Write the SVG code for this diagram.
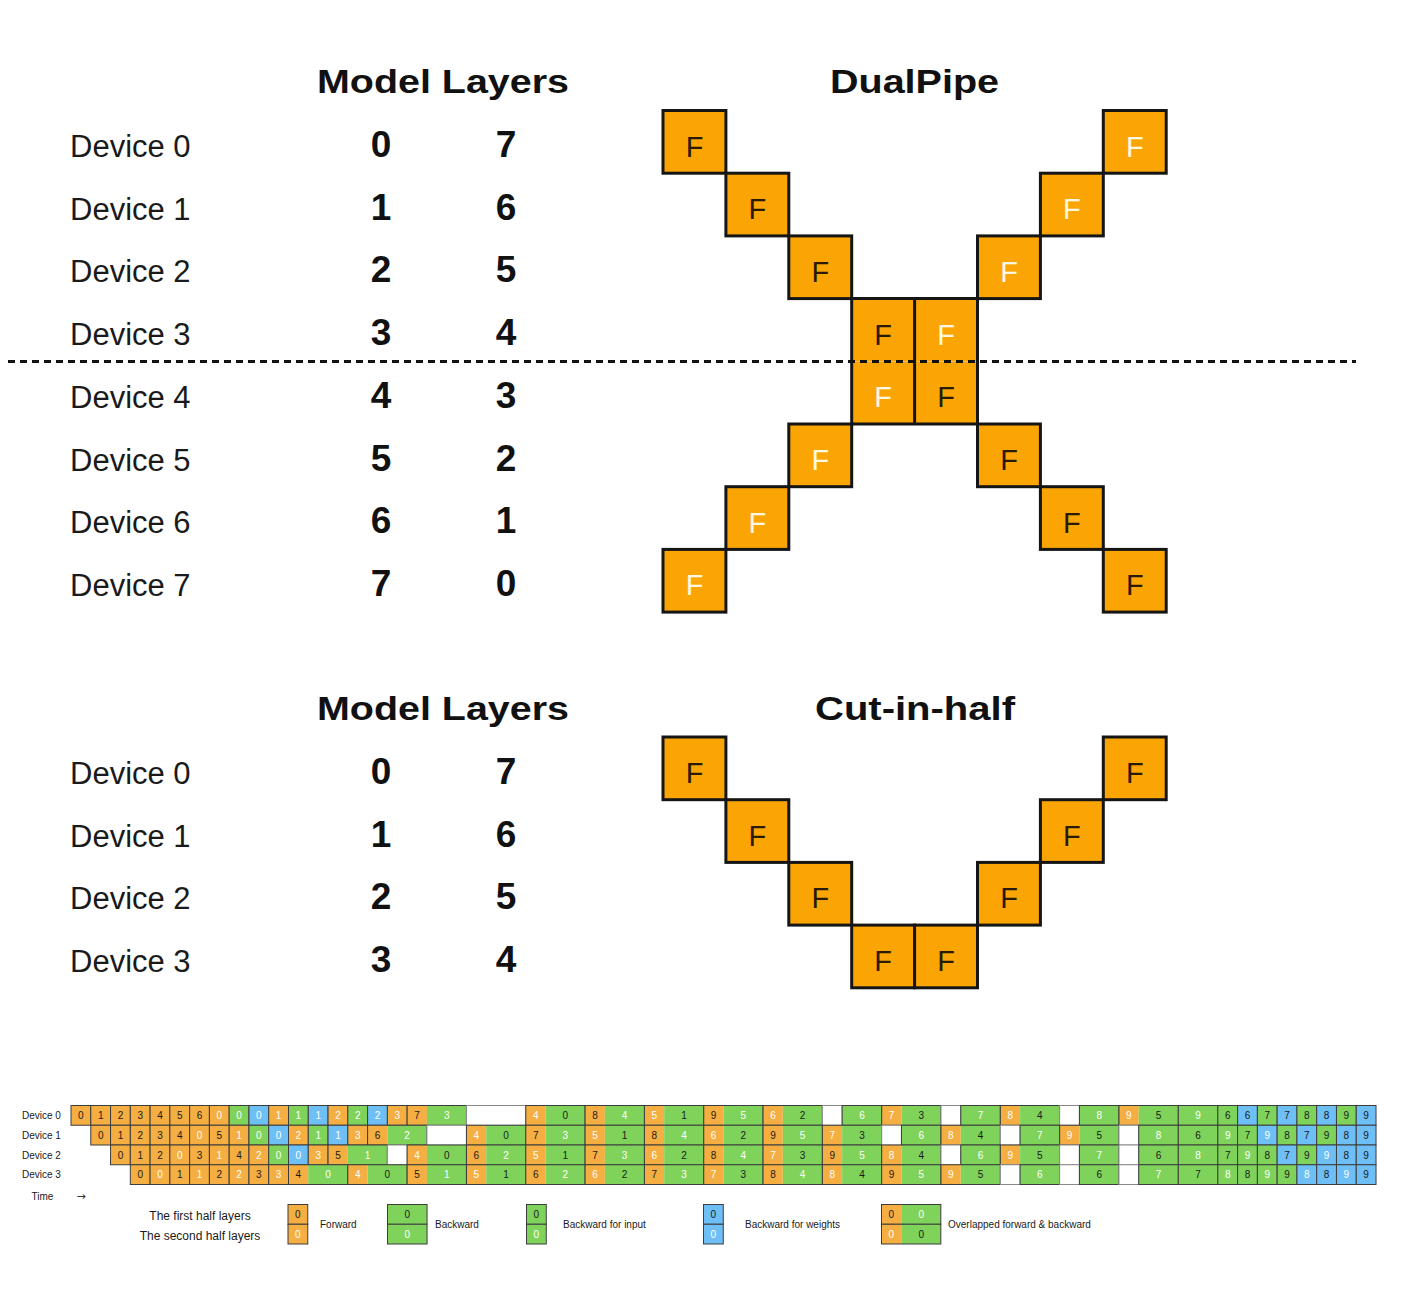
<svg xmlns="http://www.w3.org/2000/svg" width="1401" height="1304" viewBox="0 0 1401 1304">
<style>
text{font-family:"Liberation Sans",Arial,"DejaVu Sans",sans-serif}
.title{font-size:34px;font-weight:bold;fill:#111;text-anchor:middle}
.dev{font-size:31px;fill:#1a1a1a}
.num{font-size:37px;font-weight:bold;fill:#111;text-anchor:middle}
.box{fill:#fba504;stroke:#151515;stroke-width:3}
.boxf{fill:#fba504}
.boxo{fill:none;stroke:#151515;stroke-width:3}
.F{font-size:29px;text-anchor:middle}
.Fd{fill:#2a1a08}
.Fw{fill:#fff8e0}
.div{stroke:#111;stroke-width:3;stroke-dasharray:7 5;fill:none}
.sf{fill:#f5ae41}
.sg{fill:#7fd35b}
.sb{fill:#6ebff6}
.sw{fill:#ffffff}
.c{stroke:#3d3d3d;stroke-width:1}
.cw{stroke:#8a8a8a;stroke-width:1}
.o{fill:none;stroke:#3d3d3d;stroke-width:1}
.s{font-size:10px;text-anchor:middle}
.k{fill:#1a1a1a}
.w{fill:#ffffff}
.sl{font-size:10px;fill:#1a1a1a}
.arrow{font-family:"DejaVu Sans",sans-serif;font-size:11px;fill:#333}
.lg{font-size:12px;fill:#1a1a1a;text-anchor:middle}
</style>
<defs>
<rect id="cf" class="sf c" width="19.77" height="19.75"/>
<rect id="cg" class="sg c" width="19.77" height="19.75"/>
<rect id="cb" class="sb c" width="19.77" height="19.75"/>
<rect id="cg2" class="sg c" width="39.55" height="19.75"/>
<rect id="cw1" class="sw cw" width="19.77" height="19.75"/>
<rect id="cw2" class="sw cw" width="39.55" height="19.75"/>
<rect id="cw3" class="sw cw" width="59.32" height="19.75"/>
<g id="ov"><rect class="sf" width="19.77" height="19.75"/><rect class="sg" x="19.77" width="39.55" height="19.75"/><rect class="o" width="59.32" height="19.75"/></g>
</defs>
<rect width="1401" height="1304" fill="#ffffff"/>

<!-- ===== DualPipe section ===== -->
<g id="dualpipe-titles">
<text class="title" x="443" y="92.5" textLength="252" lengthAdjust="spacingAndGlyphs">Model Layers</text>
<text class="title" x="914.5" y="92.5" textLength="169" lengthAdjust="spacingAndGlyphs">DualPipe</text>
</g>
<g id="dp-devices">
<g id="dp-dev0"><text class="dev" x="70" y="157">Device 0</text><text class="num" x="381" y="157">0</text><text class="num" x="506" y="157">7</text></g>
<g id="dp-dev1"><text class="dev" x="70" y="219.7">Device 1</text><text class="num" x="381" y="219.7">1</text><text class="num" x="506" y="219.7">6</text></g>
<g id="dp-dev2"><text class="dev" x="70" y="282.4">Device 2</text><text class="num" x="381" y="282.4">2</text><text class="num" x="506" y="282.4">5</text></g>
<g id="dp-dev3"><text class="dev" x="70" y="345.1">Device 3</text><text class="num" x="381" y="345.1">3</text><text class="num" x="506" y="345.1">4</text></g>
<g id="dp-dev4"><text class="dev" x="70" y="407.8">Device 4</text><text class="num" x="381" y="407.8">4</text><text class="num" x="506" y="407.8">3</text></g>
<g id="dp-dev5"><text class="dev" x="70" y="470.5">Device 5</text><text class="num" x="381" y="470.5">5</text><text class="num" x="506" y="470.5">2</text></g>
<g id="dp-dev6"><text class="dev" x="70" y="533.2">Device 6</text><text class="num" x="381" y="533.2">6</text><text class="num" x="506" y="533.2">1</text></g>
<g id="dp-dev7"><text class="dev" x="70" y="595.9">Device 7</text><text class="num" x="381" y="595.9">7</text><text class="num" x="506" y="595.9">0</text></g>
</g>
<g id="dp-boxes">
<g id="dp-r0-a"><rect class="box" x="663" y="110.5" width="62.9" height="62.7"/><text class="F Fd" x="694.5" y="156.5">F</text></g>
<g id="dp-r0-b"><rect class="box" x="1103.3" y="110.5" width="62.9" height="62.7"/><text class="F Fw" x="1134.8" y="156.5">F</text></g>
<g id="dp-r1-a"><rect class="box" x="725.9" y="173.2" width="62.9" height="62.7"/><text class="F Fd" x="757.4" y="219.2">F</text></g>
<g id="dp-r1-b"><rect class="box" x="1040.4" y="173.2" width="62.9" height="62.7"/><text class="F Fw" x="1071.9" y="219.2">F</text></g>
<g id="dp-r2-a"><rect class="box" x="788.8" y="235.9" width="62.9" height="62.7"/><text class="F Fd" x="820.3" y="281.9">F</text></g>
<g id="dp-r2-b"><rect class="box" x="977.5" y="235.9" width="62.9" height="62.7"/><text class="F Fw" x="1009" y="281.9">F</text></g>
<g id="dp-r3-a"><rect class="boxf" x="851.7" y="298.6" width="62.9" height="62.7"/><text class="F Fd" x="883.2" y="344.6">F</text></g>
<g id="dp-r3-b"><rect class="boxf" x="914.6" y="298.6" width="62.9" height="62.7"/><text class="F Fw" x="946.1" y="344.6">F</text></g>
<g id="dp-r4-a"><rect class="boxf" x="851.7" y="361.3" width="62.9" height="62.7"/><text class="F Fw" x="883.2" y="407.3">F</text></g>
<g id="dp-r4-b"><rect class="boxf" x="914.6" y="361.3" width="62.9" height="62.7"/><text class="F Fd" x="946.1" y="407.3">F</text></g>
<path id="dp-center-outline" class="boxo" d="M851.7 298.6H977.5V424H851.7Z M914.6 298.6V424"/>
<g id="dp-r5-a"><rect class="box" x="788.8" y="424" width="62.9" height="62.7"/><text class="F Fw" x="820.3" y="470">F</text></g>
<g id="dp-r5-b"><rect class="box" x="977.5" y="424" width="62.9" height="62.7"/><text class="F Fd" x="1009" y="470">F</text></g>
<g id="dp-r6-a"><rect class="box" x="725.9" y="486.7" width="62.9" height="62.7"/><text class="F Fw" x="757.4" y="532.7">F</text></g>
<g id="dp-r6-b"><rect class="box" x="1040.4" y="486.7" width="62.9" height="62.7"/><text class="F Fd" x="1071.9" y="532.7">F</text></g>
<g id="dp-r7-a"><rect class="box" x="663" y="549.4" width="62.9" height="62.7"/><text class="F Fw" x="694.5" y="595.4">F</text></g>
<g id="dp-r7-b"><rect class="box" x="1103.3" y="549.4" width="62.9" height="62.7"/><text class="F Fd" x="1134.8" y="595.4">F</text></g>
</g>
<g id="connectors">
<line class="div" x1="8" y1="361.5" x2="1356" y2="361.5"/>
</g>

<!-- ===== Cut-in-half section ===== -->
<g id="cih-titles">
<text class="title" x="443" y="719.5" textLength="252" lengthAdjust="spacingAndGlyphs">Model Layers</text>
<text class="title" x="915" y="719.5" textLength="200" lengthAdjust="spacingAndGlyphs">Cut-in-half</text>
</g>
<g id="cih-devices">
<g id="cih-dev0"><text class="dev" x="70" y="784">Device 0</text><text class="num" x="381" y="784">0</text><text class="num" x="506" y="784">7</text></g>
<g id="cih-dev1"><text class="dev" x="70" y="846.7">Device 1</text><text class="num" x="381" y="846.7">1</text><text class="num" x="506" y="846.7">6</text></g>
<g id="cih-dev2"><text class="dev" x="70" y="909.4">Device 2</text><text class="num" x="381" y="909.4">2</text><text class="num" x="506" y="909.4">5</text></g>
<g id="cih-dev3"><text class="dev" x="70" y="972.1">Device 3</text><text class="num" x="381" y="972.1">3</text><text class="num" x="506" y="972.1">4</text></g>
</g>
<g id="cih-boxes">
<g id="cih-r0-a"><rect class="box" x="663" y="737" width="62.9" height="62.7"/><text class="F Fd" x="694.5" y="783">F</text></g>
<g id="cih-r0-b"><rect class="box" x="1103.3" y="737" width="62.9" height="62.7"/><text class="F Fd" x="1134.8" y="783">F</text></g>
<g id="cih-r1-a"><rect class="box" x="725.9" y="799.7" width="62.9" height="62.7"/><text class="F Fd" x="757.4" y="845.7">F</text></g>
<g id="cih-r1-b"><rect class="box" x="1040.4" y="799.7" width="62.9" height="62.7"/><text class="F Fd" x="1071.9" y="845.7">F</text></g>
<g id="cih-r2-a"><rect class="box" x="788.8" y="862.4" width="62.9" height="62.7"/><text class="F Fd" x="820.3" y="908.4">F</text></g>
<g id="cih-r2-b"><rect class="box" x="977.5" y="862.4" width="62.9" height="62.7"/><text class="F Fd" x="1009" y="908.4">F</text></g>
<g id="cih-r3-a"><rect class="box" x="851.7" y="925.1" width="62.9" height="62.7"/><text class="F Fd" x="883.2" y="971.1">F</text></g>
<g id="cih-r3-b"><rect class="box" x="914.6" y="925.1" width="62.9" height="62.7"/><text class="F Fd" x="946.1" y="971.1">F</text></g>
</g>

<!-- ===== Schedule ===== -->
<g id="sched-labels">
<text class="sl" x="22" y="1119">Device 0</text>
<text class="sl" x="22" y="1138.75">Device 1</text>
<text class="sl" x="22" y="1158.5">Device 2</text>
<text class="sl" x="22" y="1178.25">Device 3</text>
<text class="sl" x="31.5" y="1200" fill="#333">Time</text>
<text class="arrow" x="76.5" y="1200">→</text>
</g>

<g id="sched-dev0">
<use href="#cf" x="71" y="1105.5"/><use href="#cf" x="90.77" y="1105.5"/><use href="#cf" x="110.55" y="1105.5"/><use href="#cf" x="130.32" y="1105.5"/><use href="#cf" x="150.09" y="1105.5"/><use href="#cf" x="169.87" y="1105.5"/><use href="#cf" x="189.64" y="1105.5"/>
<use href="#cf" x="209.41" y="1105.5"/><use href="#cg" x="229.18" y="1105.5"/><use href="#cb" x="248.96" y="1105.5"/>
<use href="#cf" x="268.73" y="1105.5"/><use href="#cg" x="288.5" y="1105.5"/><use href="#cb" x="308.28" y="1105.5"/>
<use href="#cf" x="328.05" y="1105.5"/><use href="#cg" x="347.82" y="1105.5"/><use href="#cb" x="367.6" y="1105.5"/>
<use href="#cf" x="387.37" y="1105.5"/>
<use href="#ov" x="407.14" y="1105.5"/>
<use href="#cw3" x="466.46" y="1105.5"/>
<use href="#ov" x="525.78" y="1105.5"/><use href="#ov" x="585.1" y="1105.5"/><use href="#ov" x="644.42" y="1105.5"/><use href="#ov" x="703.74" y="1105.5"/><use href="#ov" x="763.06" y="1105.5"/>
<use href="#cw1" x="822.37" y="1105.5"/><use href="#cg2" x="842.15" y="1105.5"/>
<use href="#ov" x="881.69" y="1105.5"/>
<use href="#cw1" x="941.01" y="1105.5"/><use href="#cg2" x="960.79" y="1105.5"/>
<use href="#ov" x="1000.33" y="1105.5"/>
<use href="#cw1" x="1059.65" y="1105.5"/><use href="#cg2" x="1079.42" y="1105.5"/>
<use href="#ov" x="1118.97" y="1105.5"/>
<use href="#cg2" x="1178.29" y="1105.5"/>
<use href="#cg" x="1217.83" y="1105.5"/><use href="#cb" x="1237.61" y="1105.5"/><use href="#cg" x="1257.38" y="1105.5"/><use href="#cb" x="1277.15" y="1105.5"/><use href="#cg" x="1296.93" y="1105.5"/><use href="#cb" x="1316.7" y="1105.5"/><use href="#cg" x="1336.47" y="1105.5"/><use href="#cb" x="1356.25" y="1105.5"/>
<text class="s k" x="80.89" y="1119">0</text><text class="s k" x="100.66" y="1119">1</text><text class="s k" x="120.44" y="1119">2</text><text class="s k" x="140.21" y="1119">3</text><text class="s k" x="159.98" y="1119">4</text><text class="s k" x="179.76" y="1119">5</text><text class="s k" x="199.53" y="1119">6</text>
<text class="s w" x="219.3" y="1119">0</text><text class="s w" x="239.07" y="1119">0</text><text class="s w" x="258.85" y="1119">0</text><text class="s w" x="278.62" y="1119">1</text><text class="s w" x="298.39" y="1119">1</text><text class="s w" x="318.17" y="1119">1</text><text class="s w" x="337.94" y="1119">2</text><text class="s w" x="357.71" y="1119">2</text><text class="s w" x="377.49" y="1119">2</text><text class="s w" x="397.26" y="1119">3</text>
<text class="s k" x="417.03" y="1119">7</text><text class="s w" x="446.69" y="1119">3</text>
<text class="s w" x="535.67" y="1119">4</text><text class="s k" x="565.33" y="1119">0</text>
<text class="s k" x="594.99" y="1119">8</text><text class="s w" x="624.64" y="1119">4</text>
<text class="s w" x="654.31" y="1119">5</text><text class="s k" x="683.96" y="1119">1</text>
<text class="s k" x="713.63" y="1119">9</text><text class="s w" x="743.28" y="1119">5</text>
<text class="s w" x="772.95" y="1119">6</text><text class="s k" x="802.6" y="1119">2</text>
<text class="s w" x="861.92" y="1119">6</text>
<text class="s w" x="891.58" y="1119">7</text><text class="s k" x="921.24" y="1119">3</text>
<text class="s w" x="980.56" y="1119">7</text>
<text class="s w" x="1010.22" y="1119">8</text><text class="s k" x="1039.88" y="1119">4</text>
<text class="s w" x="1099.2" y="1119">8</text>
<text class="s w" x="1128.86" y="1119">9</text><text class="s k" x="1158.52" y="1119">5</text>
<text class="s w" x="1198.06" y="1119">9</text>
<text class="s k" x="1227.72" y="1119">6</text><text class="s k" x="1247.5" y="1119">6</text><text class="s k" x="1267.27" y="1119">7</text><text class="s k" x="1287.04" y="1119">7</text><text class="s k" x="1306.82" y="1119">8</text><text class="s k" x="1326.59" y="1119">8</text><text class="s k" x="1346.36" y="1119">9</text><text class="s k" x="1366.14" y="1119">9</text>
</g>

<g id="sched-dev1">
<use href="#cf" x="90.77" y="1125.25"/><use href="#cf" x="110.55" y="1125.25"/><use href="#cf" x="130.32" y="1125.25"/><use href="#cf" x="150.09" y="1125.25"/><use href="#cf" x="169.87" y="1125.25"/><use href="#cf" x="189.64" y="1125.25"/><use href="#cf" x="209.41" y="1125.25"/><use href="#cf" x="229.18" y="1125.25"/>
<use href="#cg" x="248.96" y="1125.25"/><use href="#cb" x="268.73" y="1125.25"/>
<use href="#cf" x="288.5" y="1125.25"/><use href="#cg" x="308.28" y="1125.25"/><use href="#cb" x="328.05" y="1125.25"/>
<use href="#cf" x="347.82" y="1125.25"/>
<use href="#ov" x="367.6" y="1125.25"/>
<use href="#cw2" x="426.91" y="1125.25"/>
<use href="#ov" x="466.46" y="1125.25"/><use href="#ov" x="525.78" y="1125.25"/><use href="#ov" x="585.1" y="1125.25"/><use href="#ov" x="644.42" y="1125.25"/><use href="#ov" x="703.74" y="1125.25"/><use href="#ov" x="763.06" y="1125.25"/><use href="#ov" x="822.37" y="1125.25"/>
<use href="#cw1" x="881.69" y="1125.25"/><use href="#cg2" x="901.47" y="1125.25"/>
<use href="#ov" x="941.01" y="1125.25"/>
<use href="#cw1" x="1000.33" y="1125.25"/><use href="#cg2" x="1020.1" y="1125.25"/>
<use href="#ov" x="1059.65" y="1125.25"/>
<use href="#cw1" x="1118.97" y="1125.25"/><use href="#cg2" x="1138.74" y="1125.25"/>
<use href="#cg2" x="1178.29" y="1125.25"/>
<use href="#cg" x="1217.83" y="1125.25"/><use href="#cg" x="1237.61" y="1125.25"/><use href="#cb" x="1257.38" y="1125.25"/><use href="#cg" x="1277.15" y="1125.25"/><use href="#cb" x="1296.93" y="1125.25"/><use href="#cg" x="1316.7" y="1125.25"/><use href="#cb" x="1336.47" y="1125.25"/><use href="#cb" x="1356.25" y="1125.25"/>
<text class="s k" x="100.66" y="1138.75">0</text><text class="s k" x="120.44" y="1138.75">1</text><text class="s k" x="140.21" y="1138.75">2</text><text class="s k" x="159.98" y="1138.75">3</text><text class="s k" x="179.76" y="1138.75">4</text><text class="s w" x="199.53" y="1138.75">0</text><text class="s k" x="219.3" y="1138.75">5</text><text class="s w" x="239.07" y="1138.75">1</text>
<text class="s w" x="258.85" y="1138.75">0</text><text class="s w" x="278.62" y="1138.75">0</text><text class="s w" x="298.39" y="1138.75">2</text><text class="s w" x="318.17" y="1138.75">1</text><text class="s w" x="337.94" y="1138.75">1</text><text class="s w" x="357.71" y="1138.75">3</text>
<text class="s k" x="377.49" y="1138.75">6</text><text class="s w" x="407.14" y="1138.75">2</text>
<text class="s w" x="476.35" y="1138.75">4</text><text class="s k" x="506.01" y="1138.75">0</text>
<text class="s k" x="535.67" y="1138.75">7</text><text class="s w" x="565.33" y="1138.75">3</text>
<text class="s w" x="594.99" y="1138.75">5</text><text class="s k" x="624.64" y="1138.75">1</text>
<text class="s k" x="654.31" y="1138.75">8</text><text class="s w" x="683.96" y="1138.75">4</text>
<text class="s w" x="713.63" y="1138.75">6</text><text class="s k" x="743.28" y="1138.75">2</text>
<text class="s k" x="772.95" y="1138.75">9</text><text class="s w" x="802.6" y="1138.75">5</text>
<text class="s w" x="832.26" y="1138.75">7</text><text class="s k" x="861.92" y="1138.75">3</text>
<text class="s w" x="921.24" y="1138.75">6</text>
<text class="s w" x="950.9" y="1138.75">8</text><text class="s k" x="980.56" y="1138.75">4</text>
<text class="s w" x="1039.88" y="1138.75">7</text>
<text class="s w" x="1069.54" y="1138.75">9</text><text class="s k" x="1099.2" y="1138.75">5</text>
<text class="s w" x="1158.52" y="1138.75">8</text>
<text class="s k" x="1198.06" y="1138.75">6</text>
<text class="s w" x="1227.72" y="1138.75">9</text><text class="s k" x="1247.5" y="1138.75">7</text><text class="s w" x="1267.27" y="1138.75">9</text><text class="s k" x="1287.04" y="1138.75">8</text><text class="s k" x="1306.82" y="1138.75">7</text><text class="s k" x="1326.59" y="1138.75">9</text><text class="s k" x="1346.36" y="1138.75">8</text><text class="s k" x="1366.14" y="1138.75">9</text>
</g>

<g id="sched-dev2">
<use href="#cf" x="110.55" y="1145"/><use href="#cf" x="130.32" y="1145"/><use href="#cf" x="150.09" y="1145"/><use href="#cf" x="169.87" y="1145"/><use href="#cf" x="189.64" y="1145"/><use href="#cf" x="209.41" y="1145"/><use href="#cf" x="229.18" y="1145"/><use href="#cf" x="248.96" y="1145"/>
<use href="#cg" x="268.73" y="1145"/><use href="#cb" x="288.5" y="1145"/>
<use href="#cf" x="308.28" y="1145"/>
<use href="#ov" x="328.05" y="1145"/>
<use href="#cw1" x="387.37" y="1145"/>
<use href="#ov" x="407.14" y="1145"/><use href="#ov" x="466.46" y="1145"/><use href="#ov" x="525.78" y="1145"/><use href="#ov" x="585.1" y="1145"/><use href="#ov" x="644.42" y="1145"/><use href="#ov" x="703.74" y="1145"/><use href="#ov" x="763.06" y="1145"/><use href="#ov" x="822.37" y="1145"/><use href="#ov" x="881.69" y="1145"/>
<use href="#cw1" x="941.01" y="1145"/><use href="#cg2" x="960.79" y="1145"/>
<use href="#ov" x="1000.33" y="1145"/>
<use href="#cw1" x="1059.65" y="1145"/><use href="#cg2" x="1079.42" y="1145"/>
<use href="#cw1" x="1118.97" y="1145"/><use href="#cg2" x="1138.74" y="1145"/>
<use href="#cg2" x="1178.29" y="1145"/>
<use href="#cg" x="1217.83" y="1145"/><use href="#cg" x="1237.61" y="1145"/><use href="#cg" x="1257.38" y="1145"/><use href="#cb" x="1277.15" y="1145"/><use href="#cg" x="1296.93" y="1145"/><use href="#cb" x="1316.7" y="1145"/><use href="#cb" x="1336.47" y="1145"/><use href="#cb" x="1356.25" y="1145"/>
<text class="s k" x="120.44" y="1158.5">0</text><text class="s k" x="140.21" y="1158.5">1</text><text class="s k" x="159.98" y="1158.5">2</text><text class="s w" x="179.76" y="1158.5">0</text><text class="s k" x="199.53" y="1158.5">3</text><text class="s w" x="219.3" y="1158.5">1</text><text class="s k" x="239.07" y="1158.5">4</text><text class="s w" x="258.85" y="1158.5">2</text>
<text class="s w" x="278.62" y="1158.5">0</text><text class="s w" x="298.39" y="1158.5">0</text><text class="s w" x="318.17" y="1158.5">3</text>
<text class="s k" x="337.94" y="1158.5">5</text><text class="s w" x="367.6" y="1158.5">1</text>
<text class="s w" x="417.03" y="1158.5">4</text><text class="s k" x="446.69" y="1158.5">0</text>
<text class="s k" x="476.35" y="1158.5">6</text><text class="s w" x="506.01" y="1158.5">2</text>
<text class="s w" x="535.67" y="1158.5">5</text><text class="s k" x="565.33" y="1158.5">1</text>
<text class="s k" x="594.99" y="1158.5">7</text><text class="s w" x="624.64" y="1158.5">3</text>
<text class="s w" x="654.31" y="1158.5">6</text><text class="s k" x="683.96" y="1158.5">2</text>
<text class="s k" x="713.63" y="1158.5">8</text><text class="s w" x="743.28" y="1158.5">4</text>
<text class="s w" x="772.95" y="1158.5">7</text><text class="s k" x="802.6" y="1158.5">3</text>
<text class="s k" x="832.26" y="1158.5">9</text><text class="s w" x="861.92" y="1158.5">5</text>
<text class="s w" x="891.58" y="1158.5">8</text><text class="s k" x="921.24" y="1158.5">4</text>
<text class="s w" x="980.56" y="1158.5">6</text>
<text class="s w" x="1010.22" y="1158.5">9</text><text class="s k" x="1039.88" y="1158.5">5</text>
<text class="s w" x="1099.2" y="1158.5">7</text>
<text class="s k" x="1158.52" y="1158.5">6</text>
<text class="s w" x="1198.06" y="1158.5">8</text>
<text class="s k" x="1227.72" y="1158.5">7</text><text class="s w" x="1247.5" y="1158.5">9</text><text class="s k" x="1267.27" y="1158.5">8</text><text class="s k" x="1287.04" y="1158.5">7</text><text class="s k" x="1306.82" y="1158.5">9</text><text class="s w" x="1326.59" y="1158.5">9</text><text class="s k" x="1346.36" y="1158.5">8</text><text class="s k" x="1366.14" y="1158.5">9</text>
</g>

<g id="sched-dev3">
<use href="#cf" x="130.32" y="1164.75"/><use href="#cf" x="150.09" y="1164.75"/><use href="#cf" x="169.87" y="1164.75"/><use href="#cf" x="189.64" y="1164.75"/><use href="#cf" x="209.41" y="1164.75"/><use href="#cf" x="229.18" y="1164.75"/><use href="#cf" x="248.96" y="1164.75"/><use href="#cf" x="268.73" y="1164.75"/>
<use href="#ov" x="288.5" y="1164.75"/><use href="#ov" x="347.82" y="1164.75"/><use href="#ov" x="407.14" y="1164.75"/><use href="#ov" x="466.46" y="1164.75"/><use href="#ov" x="525.78" y="1164.75"/><use href="#ov" x="585.1" y="1164.75"/><use href="#ov" x="644.42" y="1164.75"/><use href="#ov" x="703.74" y="1164.75"/><use href="#ov" x="763.06" y="1164.75"/><use href="#ov" x="822.37" y="1164.75"/><use href="#ov" x="881.69" y="1164.75"/><use href="#ov" x="941.01" y="1164.75"/>
<use href="#cw1" x="1000.33" y="1164.75"/><use href="#cg2" x="1020.1" y="1164.75"/>
<use href="#cw1" x="1059.65" y="1164.75"/><use href="#cg2" x="1079.42" y="1164.75"/>
<use href="#cw1" x="1118.97" y="1164.75"/><use href="#cg2" x="1138.74" y="1164.75"/>
<use href="#cg2" x="1178.29" y="1164.75"/>
<use href="#cg" x="1217.83" y="1164.75"/><use href="#cg" x="1237.61" y="1164.75"/><use href="#cg" x="1257.38" y="1164.75"/><use href="#cg" x="1277.15" y="1164.75"/><use href="#cb" x="1296.93" y="1164.75"/><use href="#cb" x="1316.7" y="1164.75"/><use href="#cb" x="1336.47" y="1164.75"/><use href="#cb" x="1356.25" y="1164.75"/>
<text class="s k" x="140.21" y="1178.25">0</text><text class="s w" x="159.98" y="1178.25">0</text><text class="s k" x="179.76" y="1178.25">1</text><text class="s w" x="199.53" y="1178.25">1</text><text class="s k" x="219.3" y="1178.25">2</text><text class="s w" x="239.07" y="1178.25">2</text><text class="s k" x="258.85" y="1178.25">3</text><text class="s w" x="278.62" y="1178.25">3</text>
<text class="s k" x="298.39" y="1178.25">4</text><text class="s w" x="328.05" y="1178.25">0</text>
<text class="s w" x="357.71" y="1178.25">4</text><text class="s k" x="387.37" y="1178.25">0</text>
<text class="s k" x="417.03" y="1178.25">5</text><text class="s w" x="446.69" y="1178.25">1</text>
<text class="s w" x="476.35" y="1178.25">5</text><text class="s k" x="506.01" y="1178.25">1</text>
<text class="s k" x="535.67" y="1178.25">6</text><text class="s w" x="565.33" y="1178.25">2</text>
<text class="s w" x="594.99" y="1178.25">6</text><text class="s k" x="624.64" y="1178.25">2</text>
<text class="s k" x="654.31" y="1178.25">7</text><text class="s w" x="683.96" y="1178.25">3</text>
<text class="s w" x="713.63" y="1178.25">7</text><text class="s k" x="743.28" y="1178.25">3</text>
<text class="s k" x="772.95" y="1178.25">8</text><text class="s w" x="802.6" y="1178.25">4</text>
<text class="s w" x="832.26" y="1178.25">8</text><text class="s k" x="861.92" y="1178.25">4</text>
<text class="s k" x="891.58" y="1178.25">9</text><text class="s w" x="921.24" y="1178.25">5</text>
<text class="s w" x="950.9" y="1178.25">9</text><text class="s k" x="980.56" y="1178.25">5</text>
<text class="s w" x="1039.88" y="1178.25">6</text>
<text class="s k" x="1099.2" y="1178.25">6</text>
<text class="s w" x="1158.52" y="1178.25">7</text>
<text class="s k" x="1198.06" y="1178.25">7</text>
<text class="s w" x="1227.72" y="1178.25">8</text><text class="s k" x="1247.5" y="1178.25">8</text><text class="s w" x="1267.27" y="1178.25">9</text><text class="s k" x="1287.04" y="1178.25">9</text><text class="s w" x="1306.82" y="1178.25">8</text><text class="s k" x="1326.59" y="1178.25">8</text><text class="s w" x="1346.36" y="1178.25">9</text><text class="s k" x="1366.14" y="1178.25">9</text>
</g>

<!-- ===== Legend ===== -->
<g id="legend-halves">
<text class="lg" x="200" y="1219.5">The first half layers</text>
<text class="lg" x="200" y="1239.5">The second half layers</text>
</g>
<g id="legend-forward">
<use href="#cf" x="288" y="1204.5"/><use href="#cf" x="288" y="1224.25"/>
<text class="s k" x="297.89" y="1218">0</text><text class="s w" x="297.89" y="1237.75">0</text>
<text class="sl" x="320" y="1227.6">Forward</text>
</g>
<g id="legend-backward">
<use href="#cg2" x="387.5" y="1204.5"/><use href="#cg2" x="387.5" y="1224.25"/>
<text class="s k" x="407.27" y="1218">0</text><text class="s w" x="407.27" y="1237.75">0</text>
<text class="sl" x="435" y="1227.6">Backward</text>
</g>
<g id="legend-binput">
<use href="#cg" x="526.5" y="1204.5"/><use href="#cg" x="526.5" y="1224.25"/>
<text class="s k" x="536.39" y="1218">0</text><text class="s w" x="536.39" y="1237.75">0</text>
<text class="sl" x="563" y="1227.6">Backward for input</text>
</g>
<g id="legend-bweights">
<use href="#cb" x="703.5" y="1204.5"/><use href="#cb" x="703.5" y="1224.25"/>
<text class="s k" x="713.39" y="1218">0</text><text class="s w" x="713.39" y="1237.75">0</text>
<text class="sl" x="745" y="1227.6">Backward for weights</text>
</g>
<g id="legend-overlap">
<use href="#ov" x="881.5" y="1204.5"/><use href="#ov" x="881.5" y="1224.25"/>
<text class="s k" x="891.39" y="1218">0</text><text class="s w" x="921.27" y="1218">0</text>
<text class="s w" x="891.39" y="1237.75">0</text><text class="s k" x="921.27" y="1237.75">0</text>
<text class="sl" x="948" y="1227.6">Overlapped forward &amp; backward</text>
</g>
</svg>
